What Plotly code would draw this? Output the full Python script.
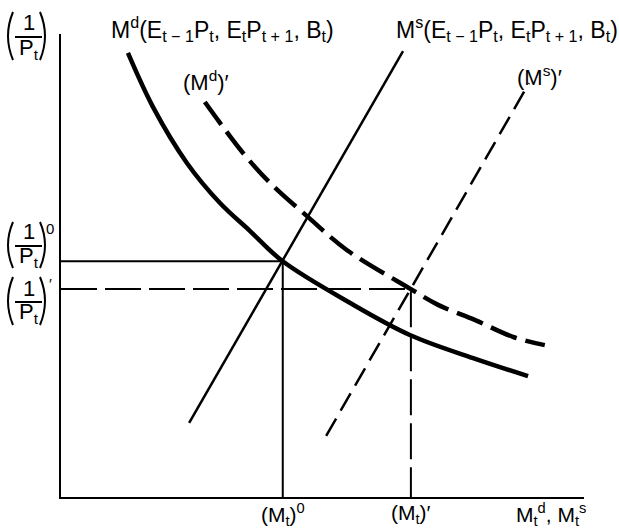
import plotly.graph_objects as go

# ---------------- data ----------------
md_x = [1.28, 1.76, 2.41, 3.04, 3.61, 4.24, 5.53, 6.67, 7.88, 8.93]
md_y = [9.59, 8.42, 7.21, 6.35, 5.75, 5.09, 4.19, 3.50, 3.00, 2.61]
md2_x = [2.75, 3.04, 3.48, 4.00, 4.72, 5.47, 6.69, 7.21, 7.92, 8.64, 9.25]
md2_y = [8.53, 8.08, 7.43, 6.78, 6.05, 5.33, 4.49, 4.15, 3.82, 3.46, 3.28]
ms_x = [2.45, 6.54]
ms_y = [1.60, 9.63]
ms2_x = [5.07, 8.95]
ms2_y = [1.32, 8.94]
eq_m = [4.24, 6.69]          # (M_t)^0, (M_t)'
eq_p = [5.09, 4.49]          # (1/P_t)^0, (1/P_t)'
x_axis_title_pos = 9.37
x_tick_text = ["(M<sub>t</sub>)<sup>0</sup>", "(M<sub>t</sub>)′",
               "M<sub>t</sub><sup>d</sup>, M<sub>t</sub><sup>s</sup>"]
md_label = "M<sup>d</sup>(E<sub>t − 1</sub>P<sub>t</sub>, E<sub>t</sub>P<sub>t + 1</sub>, B<sub>t</sub>)"
ms_label = "M<sup>s</sup>(E<sub>t − 1</sub>P<sub>t</sub>, E<sub>t</sub>P<sub>t + 1</sub>, B<sub>t</sub>)"
md2_label = "(M<sup>d</sup>)′"
ms2_label = "(M<sup>s</sup>)′"

# ---------------- layout geometry ----------------
W, H = 619, 529
L, R, T, B = 61, 35, 34, 32
PW, PH = W - L - R, H - T - B
FONT = "Liberation Sans, Arial, Helvetica, sans-serif"
FS = 22


def X(px):
    return (px - L) / PW


def Y(py):
    return (H - B - py) / PH


fig = go.Figure()

# reference lines
fig.add_trace(go.Scatter(x=[0, eq_m[0], eq_m[0]], y=[eq_p[0], eq_p[0], 0],
                         mode="lines", line=dict(color="black", width=2), hoverinfo="skip"))
fig.add_trace(go.Scatter(x=[0, eq_m[1], eq_m[1]], y=[eq_p[1], eq_p[1], 0],
                         mode="lines", line=dict(color="black", width=2, dash="36px,8px"),
                         hoverinfo="skip"))
# supply curves
fig.add_trace(go.Scatter(x=ms_x, y=ms_y, mode="lines",
                         line=dict(color="black", width=2.5), hoverinfo="skip"))
fig.add_trace(go.Scatter(x=ms2_x, y=ms2_y, mode="lines",
                         line=dict(color="black", width=2.5, dash="20px,9px"), hoverinfo="skip"))
# demand curves
fig.add_trace(go.Scatter(x=md_x, y=md_y, mode="lines",
                         line=dict(color="black", width=4.5, shape="spline", smoothing=1),
                         hoverinfo="skip"))
fig.add_trace(go.Scatter(x=md2_x, y=md2_y, mode="lines",
                         line=dict(color="black", width=4.5, dash="28px,9px",
                                   shape="spline", smoothing=1),
                         hoverinfo="skip"))

annotations = []
shapes = []

def txt(px, py, text, xanchor="center", size=FS):
    annotations.append(dict(x=X(px), y=Y(py), xref="paper", yref="paper", text=text,
                            showarrow=False, xanchor=xanchor, yanchor="middle",
                            font=dict(family=FONT, size=size, color="black")))

# curve labels
txt(109, 29, md_label, "left", 23)
txt(394, 29, ms_label, "left", 23)
txt(206, 81, md2_label)
txt(539, 76, ms2_label)

# labels under the horizontal axis, placed at the data positions
for xv, t in zip([eq_m[0], eq_m[1], x_axis_title_pos], x_tick_text):
    annotations.append(dict(x=xv, y=Y(514), xref="x", yref="paper", text=t,
                            showarrow=False, xanchor="center", yanchor="middle",
                            font=dict(family=FONT, size=21, color="black")))

# fraction labels on the vertical axis
fracs = [  # top, bottom, numerator y, bar y, denominator y, superscript
    (12, 60, 22, 37, 49, None),
    (222, 268, 232, 246, 257, "0"),
    (277, 325, 288, 302, 313, "′"),
]
for top, bot, ny, by, dy, sup in fracs:
    mid = (top + bot) / 2
    txt(28.5, ny, "1")
    txt(29, dy, "P<sub>t</sub>")
    shapes.append(dict(type="line", xref="paper", yref="paper",
                       x0=X(15), x1=X(42), y0=Y(by), y1=Y(by),
                       line=dict(color="black", width=2)))
    shapes.append(dict(type="path", xref="paper", yref="paper",
                       path=f"M {X(13)},{Y(top)} Q {X(3)},{Y(mid)} {X(13)},{Y(bot)}",
                       line=dict(color="black", width=2)))
    shapes.append(dict(type="path", xref="paper", yref="paper",
                       path=f"M {X(40)},{Y(top)} Q {X(50)},{Y(mid)} {X(40)},{Y(bot)}",
                       line=dict(color="black", width=2)))
    if sup:
        txt(50, top + 6, sup, size=15)

fig.update_layout(
    width=W, height=H,
    margin=dict(l=L, r=R, t=T, b=B),
    paper_bgcolor="white", plot_bgcolor="white",
    showlegend=False,
    annotations=annotations, shapes=shapes,
    xaxis=dict(range=[0, 10], showgrid=False, zeroline=False, showline=True,
               automargin=False, showticklabels=False,
               linecolor="black", linewidth=2, ticks=""),
    yaxis=dict(range=[0, 10], showgrid=False, zeroline=False, showline=True,
               automargin=False,
               linecolor="black", linewidth=2, ticks="", showticklabels=False),
)

fig.write_html("out.html", config={"displayModeBar": False},
               post_script="document.body.style.margin='0px';document.body.style.overflow='hidden';")
